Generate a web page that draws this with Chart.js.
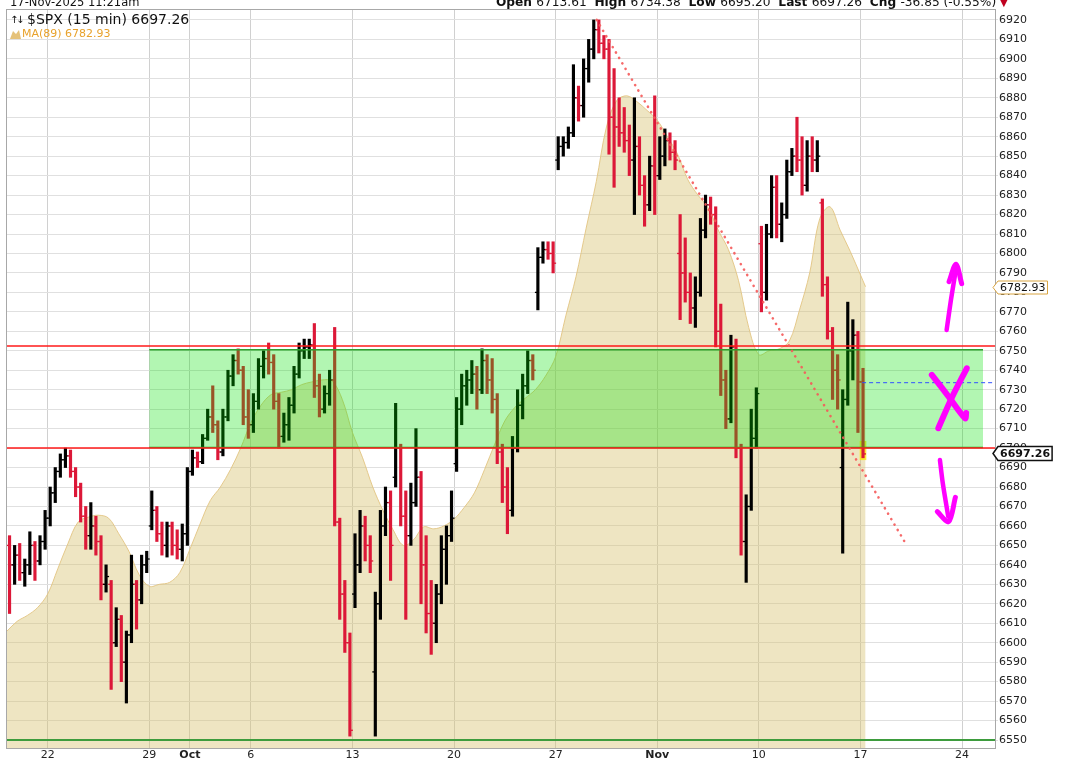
<!DOCTYPE html>
<html>
<head>
<meta charset="utf-8">
<script src="https://cdn.jsdelivr.net/npm/chart.js@4.4.1/dist/chart.umd.min.js"></script>
<style>
  html, body { margin: 0; padding: 0; background: #fff; }
  #wrap { width: 1066px; height: 763px; position: relative; }
</style>
</head>
<body>
<div id="wrap"><canvas id="spxChart"></canvas></div>
<script>
// $SPX 15 min, 17-Nov-2025 11:21am

// trading sessions on the x axis (one unit = one session)
const sessions = ["Sep 18", "Sep 19", "Sep 22", "Sep 23", "Sep 24", "Sep 25", "Sep 26", "Sep 29", "Sep 30",
    "Oct 1", "Oct 2", "Oct 3", "Oct 6", "Oct 7", "Oct 8", "Oct 9", "Oct 10", "Oct 13", "Oct 14", "Oct 15",
    "Oct 16", "Oct 17", "Oct 20", "Oct 21", "Oct 22", "Oct 23", "Oct 24", "Oct 27", "Oct 28", "Oct 29",
    "Oct 30", "Oct 31", "Nov 3", "Nov 4", "Nov 5", "Nov 6", "Nov 7", "Nov 10", "Nov 11", "Nov 12",
    "Nov 13", "Nov 14", "Nov 17"];

// price bars, [open, high, low, close], four per session
const ohlc = [
    [[6650, 6655, 6615, 6640], [6640, 6650, 6630, 6645], [6645, 6651, 6632, 6636], [6636, 6643, 6629, 6640]],
    [[6640, 6657, 6635, 6650], [6650, 6652, 6632, 6642], [6642, 6655, 6640, 6652], [6652, 6668, 6648, 6664]],
    [[6664, 6680, 6660, 6677], [6677, 6690, 6672, 6688], [6688, 6697, 6685, 6694], [6694, 6700, 6690, 6696]],
    [[6696, 6699, 6685, 6688], [6688, 6690, 6675, 6680], [6680, 6682, 6662, 6665], [6665, 6670, 6648, 6655]],
    [[6655, 6672, 6648, 6660], [6660, 6665, 6645, 6652], [6652, 6655, 6622, 6630], [6630, 6640, 6626, 6634]],
    [[6630, 6632, 6576, 6600], [6600, 6618, 6598, 6612], [6612, 6614, 6580, 6590], [6590, 6606, 6569, 6604]],
    [[6604, 6645, 6600, 6630], [6630, 6632, 6607, 6622], [6622, 6645, 6620, 6640], [6640, 6647, 6636, 6643]],
    [[6660, 6678, 6658, 6668], [6668, 6670, 6652, 6656], [6656, 6662, 6645, 6650], [6650, 6662, 6644, 6660]],
    [[6660, 6662, 6645, 6650], [6650, 6658, 6643, 6648], [6648, 6661, 6642, 6656], [6656, 6690, 6650, 6688]],
    [[6688, 6699, 6686, 6695], [6695, 6698, 6690, 6693], [6693, 6707, 6692, 6705], [6705, 6720, 6704, 6716]],
    [[6716, 6732, 6708, 6712], [6712, 6714, 6694, 6698], [6698, 6720, 6696, 6716], [6716, 6740, 6714, 6737]],
    [[6737, 6748, 6732, 6745], [6745, 6751, 6738, 6740], [6740, 6742, 6712, 6716], [6716, 6730, 6705, 6712]],
    [[6712, 6728, 6708, 6724], [6724, 6746, 6720, 6742], [6742, 6750, 6736, 6746], [6746, 6754, 6738, 6744]],
    [[6744, 6748, 6720, 6724], [6724, 6728, 6700, 6706], [6706, 6718, 6703, 6712], [6712, 6726, 6704, 6722]],
    [[6722, 6742, 6718, 6738], [6738, 6754, 6736, 6750], [6750, 6756, 6746, 6752], [6752, 6756, 6746, 6753]],
    [[6753, 6764, 6726, 6732], [6732, 6738, 6716, 6720], [6720, 6732, 6718, 6728], [6728, 6740, 6722, 6735]],
    [[6735, 6762, 6660, 6662], [6662, 6664, 6612, 6625], [6625, 6632, 6595, 6600], [6600, 6605, 6552, 6555]],
    [[6625, 6656, 6618, 6640], [6640, 6668, 6636, 6660], [6660, 6665, 6642, 6650], [6650, 6655, 6636, 6642]],
    [[6585, 6626, 6552, 6620], [6620, 6668, 6612, 6660], [6660, 6680, 6655, 6672], [6672, 6678, 6632, 6650]],
    [[6685, 6723, 6680, 6700], [6700, 6702, 6660, 6665], [6665, 6678, 6612, 6655], [6655, 6682, 6650, 6672]],
    [[6672, 6710, 6670, 6685], [6685, 6688, 6620, 6640], [6640, 6655, 6605, 6615], [6615, 6632, 6594, 6610]],
    [[6610, 6630, 6600, 6625], [6625, 6655, 6620, 6648], [6648, 6660, 6630, 6655], [6655, 6678, 6652, 6664]],
    [[6692, 6726, 6688, 6720], [6720, 6738, 6712, 6732], [6732, 6740, 6722, 6735], [6735, 6745, 6728, 6738]],
    [[6738, 6742, 6720, 6730], [6730, 6751, 6728, 6745], [6745, 6748, 6728, 6735], [6735, 6746, 6718, 6725]],
    [[6725, 6728, 6692, 6698], [6698, 6702, 6672, 6680], [6680, 6690, 6656, 6668], [6668, 6706, 6665, 6700]],
    [[6700, 6730, 6698, 6722], [6722, 6738, 6715, 6732], [6732, 6750, 6728, 6745], [6745, 6748, 6735, 6740]],
    [[6780, 6803, 6771, 6798], [6798, 6806, 6795, 6802], [6802, 6806, 6797, 6800], [6800, 6806, 6790, 6795]],
    [[6848, 6860, 6843, 6855], [6855, 6860, 6850, 6857], [6857, 6865, 6854, 6862], [6862, 6897, 6860, 6880]],
    [[6880, 6886, 6868, 6876], [6876, 6900, 6870, 6895], [6895, 6910, 6888, 6905], [6905, 6920, 6900, 6915]],
    [[6915, 6920, 6903, 6908], [6908, 6912, 6900, 6905], [6905, 6910, 6851, 6870], [6870, 6895, 6834, 6865]],
    [[6865, 6880, 6855, 6862], [6862, 6875, 6852, 6858], [6858, 6866, 6840, 6848], [6848, 6880, 6820, 6855]],
    [[6855, 6860, 6830, 6835], [6835, 6840, 6814, 6825], [6825, 6850, 6822, 6845], [6845, 6881, 6820, 6840]],
    [[6840, 6860, 6838, 6850], [6850, 6864, 6845, 6858], [6858, 6862, 6848, 6852], [6852, 6858, 6843, 6848]],
    [[6800, 6820, 6766, 6790], [6790, 6808, 6775, 6780], [6780, 6790, 6764, 6772], [6772, 6788, 6762, 6780]],
    [[6780, 6818, 6778, 6812], [6812, 6830, 6808, 6825], [6825, 6829, 6815, 6820], [6820, 6824, 6752, 6760]],
    [[6760, 6774, 6727, 6735], [6735, 6740, 6710, 6715], [6715, 6758, 6713, 6752], [6752, 6756, 6695, 6700]],
    [[6700, 6702, 6645, 6652], [6652, 6676, 6631, 6670], [6670, 6720, 6668, 6705], [6705, 6731, 6700, 6728]],
    [[6805, 6814, 6770, 6780], [6780, 6815, 6776, 6810], [6810, 6840, 6808, 6834], [6834, 6840, 6808, 6815]],
    [[6815, 6826, 6806, 6820], [6820, 6848, 6818, 6842], [6842, 6854, 6840, 6850], [6850, 6870, 6842, 6848]],
    [[6848, 6860, 6830, 6835], [6835, 6858, 6832, 6850], [6850, 6860, 6842, 6848], [6848, 6858, 6842, 6850]],
    [[6826, 6828, 6778, 6784], [6784, 6788, 6756, 6760], [6760, 6762, 6725, 6740], [6740, 6748, 6720, 6735]],
    [[6690, 6730, 6646, 6725], [6725, 6775, 6722, 6750], [6750, 6766, 6735, 6758], [6758, 6760, 6708, 6734]],
    [[6734, 6741, 6695, 6697]]
];
const barsPerSession = 4;

// MA(89), read every half session
const ma89 = [
    6606, 6611, 6614, 6618, 6625, 6638, 6651, 6662, 6664.5, 6665.5,
    6664, 6656, 6647, 6635, 6629, 6630, 6631, 6636, 6648, 6661,
    6673, 6680, 6689, 6700, 6713, 6722, 6727.5, 6728.7, 6730, 6732.6,
    6734, 6735, 6734.5, 6725, 6708, 6695, 6680, 6668, 6658, 6650,
    6652.8, 6659.5, 6658.5, 6660, 6663.5, 6669.5, 6677, 6689, 6702, 6714,
    6721, 6725.6, 6730, 6737, 6747, 6768, 6788, 6813, 6837, 6865,
    6878.5, 6881, 6878, 6873.5, 6868.5, 6860, 6851, 6838, 6830, 6823.5,
    6812, 6802, 6786, 6762, 6748, 6750, 6751, 6755, 6771, 6790,
    6818, 6824, 6812, 6801, 6789
];
const maLast = 6782.93;
const lastPrice = 6697.26;

// x axis
const tickSessions = [2, 7, 9, 12, 17, 22, 27, 32, 37, 42, 47];
const tickLabels = ["22", "29", "Oct", "6", "13", "20", "27", "Nov", "10", "17", "24"];
const xRange = [0, 48.62];
const yTicks = [];
for (let v = 6550; v <= 6920; v += 10) yTicks.push(v);

// drawn levels and box
const resistance = 6752.5;
const support = 6700;
const floorLine = 6550;
const boxLevels = [6700.3, 6750.5];
const boxSessions = [7, 48.03];
const pivotLevel = 6733.6;
const pivotFrom = 42.08;
const trendLine = [[29.02, 6920], [44.28, 6650]];

// magenta hand drawn marks
const upArrow = [[46.24, 6760.7], [46.45, 6776], [46.70, 6792]];
const upHead = [[46.36, 6785.5], [46.70, 6794.5], [46.98, 6784.5]];
const crossA = [[45.51, 6737.6], [46.3, 6727], [47.15, 6715.3], [47.2, 6718]];
const crossB = [[47.23, 6741.0], [46.5, 6726], [45.83, 6710.2]];
const downArrow = [[45.91, 6693.9], [46.05, 6682], [46.32, 6664.8]];
const downHead = [[45.78, 6667.3], [46.34, 6662.2], [46.67, 6674.7]];


const bars = [];
ohlc.forEach((day, s) => {
    day.forEach((b, k) => {
        bars.push({ x: s + (k + 0.5) / barsPerSession, o: b[0], h: b[1], l: b[2], c: b[3] });
    });
});
const barColors = bars.map(b => b.c < b.o ? "#dc1838" : "#000000");
const lastBar = bars[bars.length - 1];

const maPoints = ma89.map((v, i) => ({ x: i / 2, y: v }));
maPoints.push({ x: lastBar.x + 0.125, y: maLast });

const pts = arr => arr.map(p => ({ x: p[0], y: p[1] }));
const flat = (y, a, b) => [{ x: a, y: y }, { x: b, y: y }];

function magenta(data, width) {
    return {
        type: "line", data: pts(data), borderColor: "#ff00ff", borderWidth: width,
        borderCapStyle: "round", borderJoinStyle: "round", pointRadius: 0, tension: 0.3, order: 1
    };
}

// header, legend, frame and price tags
const decorations = {
    id: "decorations",
    beforeDatasetsDraw(chart) {
        const { ctx, chartArea: a } = chart;
        ctx.save();
        ctx.strokeStyle = "#a8a8a8";
        ctx.lineWidth = 1;
        ctx.strokeRect(a.left - 0.5, a.top - 0.5, a.right - a.left + 1, a.bottom - a.top + 1);
        ctx.restore();
    },
    afterDraw(chart) {
        const { ctx, chartArea: a } = chart;
        const y = chart.scales.y;
        ctx.save();

        // cut off title line
        ctx.fillStyle = "#111";
        ctx.font = "11.5px 'DejaVu Sans'";
        ctx.textBaseline = "alphabetic";
        ctx.fillText("17-Nov-2025 11:21am", 10, 6);

        const parts = [["Open ", true], ["6713.61  ", false], ["High ", true], ["6734.38  ", false],
            ["Low ", true], ["6695.20  ", false], ["Last ", true], ["6697.26  ", false],
            ["Chg ", true], ["-36.85 (-0.55%) ", false]];
        let x = 496;
        parts.forEach(p => {
            ctx.font = (p[1] ? "bold " : "") + "12.2px 'DejaVu Sans'";
            ctx.fillText(p[0], x, 6);
            x += ctx.measureText(p[0]).width;
        });
        ctx.fillStyle = "#c00020";
        ctx.font = "10px 'DejaVu Sans'";
        ctx.fillText("\u25BC", x, 6);

        // legend
        ctx.fillStyle = "#111";
        ctx.font = "10px 'DejaVu Sans'";
        ctx.textBaseline = "middle";
        ctx.fillText("\u2191", 10, 20);
        ctx.fillText("\u2193", 16, 20);
        ctx.font = "14px 'DejaVu Sans'";
        ctx.fillText("$SPX (15 min) " + lastPrice.toFixed(2), 27, 20);
        ctx.fillStyle = "#e5c27a";
        ctx.beginPath();
        ctx.moveTo(10, 39); ctx.lineTo(13, 31); ctx.lineTo(16, 34); ctx.lineTo(19, 30); ctx.lineTo(21, 39);
        ctx.closePath(); ctx.fill();
        ctx.fillStyle = "#e8a22c";
        ctx.font = "11px 'DejaVu Sans'";
        ctx.fillText("MA(89) " + maLast.toFixed(2), 22, 34);

        // price tags on the axis
        function tag(value, text, border, bold, h) {
            const py = Math.round(y.getPixelForValue(value)) + 0.5;
            ctx.font = (bold ? "bold " : "") + "11px 'DejaVu Sans'";
            const l = a.right + 3;
            const r = l + ctx.measureText(text).width + 4;
            ctx.beginPath();
            ctx.moveTo(a.right - 2, py);
            ctx.lineTo(l, py - h / 2);
            ctx.lineTo(r, py - h / 2);
            ctx.lineTo(r, py + h / 2);
            ctx.lineTo(l, py + h / 2);
            ctx.closePath();
            ctx.fillStyle = "#fff";
            ctx.fill();
            ctx.strokeStyle = border;
            ctx.lineWidth = bold ? 1.5 : 1;
            ctx.stroke();
            ctx.fillStyle = "#111";
            ctx.textBaseline = "middle";
            ctx.fillText(text, l + 2, py + 0.5);
        }
        tag(maLast, maLast.toFixed(2), "#d9a441", false, 13);
        tag(lastPrice, lastPrice.toFixed(2), "#111", true, 14);
        ctx.restore();
    }
};

new Chart(document.getElementById("spxChart"), {
    type: "bar",
    data: {
        datasets: [
            {
                type: "line", label: "MA(89)", data: maPoints,
                borderColor: "rgba(226,196,130,0.9)", borderWidth: 1,
                backgroundColor: "rgba(214,192,110,0.42)", fill: "start",
                pointRadius: 0, tension: 0.35, order: 10
            },
            {
                type: "bar", label: "last", data: [{ x: lastBar.x, y: [6694, 6703.5] }],
                backgroundColor: "rgba(255,228,0,0.75)", barThickness: 6, grouped: false, order: 9
            },
            {
                type: "bar", label: "$SPX", data: bars.map(b => ({ x: b.x, y: [b.l, b.h] })),
                backgroundColor: barColors, barThickness: 2.5, grouped: false, order: 8
            },
            {
                type: "line", label: "open", showLine: false, data: bars.map(b => ({ x: b.x, y: b.o })),
                pointStyle: "dash", pointRotation: 180, pointRadius: 3, pointBorderWidth: 1.3,
                pointBorderColor: barColors, pointBackgroundColor: barColors, order: 7
            },
            {
                type: "line", label: "close", showLine: false, data: bars.map(b => ({ x: b.x, y: b.c })),
                pointStyle: "dash", pointRotation: 0, pointRadius: 3, pointBorderWidth: 1.3,
                pointBorderColor: barColors, pointBackgroundColor: barColors, order: 7
            },
            {
                type: "line", label: "box low", data: flat(boxLevels[0], boxSessions[0], boxSessions[1]),
                borderColor: "#2f9f2f", borderWidth: 1.5, pointRadius: 0, fill: false, order: 5
            },
            {
                type: "line", label: "box high", data: flat(boxLevels[1], boxSessions[0], boxSessions[1]),
                borderColor: "#2f9f2f", borderWidth: 1.5, pointRadius: 0,
                backgroundColor: "rgba(0,225,0,0.3)", fill: "-1", order: 4
            },
            {
                type: "line", label: "resistance", data: flat(resistance, xRange[0], xRange[1]),
                borderColor: "#ff1a1a", borderWidth: 1.5, pointRadius: 0, order: 3
            },
            {
                type: "line", label: "support", data: flat(support, xRange[0], xRange[1]),
                borderColor: "#ff1a1a", borderWidth: 1.5, pointRadius: 0, order: 3
            },
            {
                type: "line", label: "floor", data: flat(floorLine, xRange[0], xRange[1]),
                borderColor: "#3d9c3d", borderWidth: 2, pointRadius: 0, order: 3
            },
            {
                type: "line", label: "trend", data: pts(trendLine),
                borderColor: "rgba(245,90,90,0.9)", borderWidth: 2.6, borderDash: [0.1, 6.2],
                borderCapStyle: "round", pointRadius: 0, order: 2
            },
            {
                type: "line", label: "pivot", data: flat(pivotLevel, pivotFrom, xRange[1]),
                borderColor: "#2f4fff", borderWidth: 1, borderDash: [4, 3], pointRadius: 0, order: 2
            },
            magenta(upArrow, 4.5),
            magenta(upHead, 5),
            magenta(crossA, 6),
            magenta(crossB, 6),
            magenta(downArrow, 4.5),
            magenta(downHead, 5)
        ]
    },
    options: {
        responsive: true,
        maintainAspectRatio: false,
        animation: false,
        layout: { padding: { left: 7, top: 10, right: 0, bottom: 0 } },
        plugins: {
            legend: { display: false },
            tooltip: { enabled: false }
        },
        scales: {
            x: {
                type: "linear",
                min: xRange[0],
                max: xRange[1],
                offset: false,
                afterBuildTicks: s => { s.ticks = tickSessions.map(v => ({ value: v })); },
                afterFit: s => { s.height = 15; },
                grid: { color: "#d0d0d0", lineWidth: 1, drawTicks: false, offset: false },
                border: { display: false },
                ticks: {
                    autoSkip: false,
                    maxRotation: 0,
                    padding: 1,
                    color: "#222",
                    font: c => ({
                        family: "'DejaVu Sans'", size: 11,
                        weight: (c.tick && (c.tick.value === 9 || c.tick.value === 32)) ? "bold" : "normal"
                    }),
                    callback: v => tickLabels[tickSessions.indexOf(v)]
                }
            },
            y: {
                position: "right",
                min: 6545.9,
                max: 6925.1,
                afterBuildTicks: s => { s.ticks = yTicks.map(v => ({ value: v })); },
                afterFit: s => { s.width = 71; },
                grid: { color: "#e0e0e0", lineWidth: 1, tickLength: 3 },
                border: { display: false },
                ticks: {
                    padding: 1,
                    color: "#222",
                    font: { family: "'DejaVu Sans'", size: 11 },
                    callback: v => String(v)
                }
            }
        }
    },
    plugins: [decorations]
});
</script>
</body>
</html>
